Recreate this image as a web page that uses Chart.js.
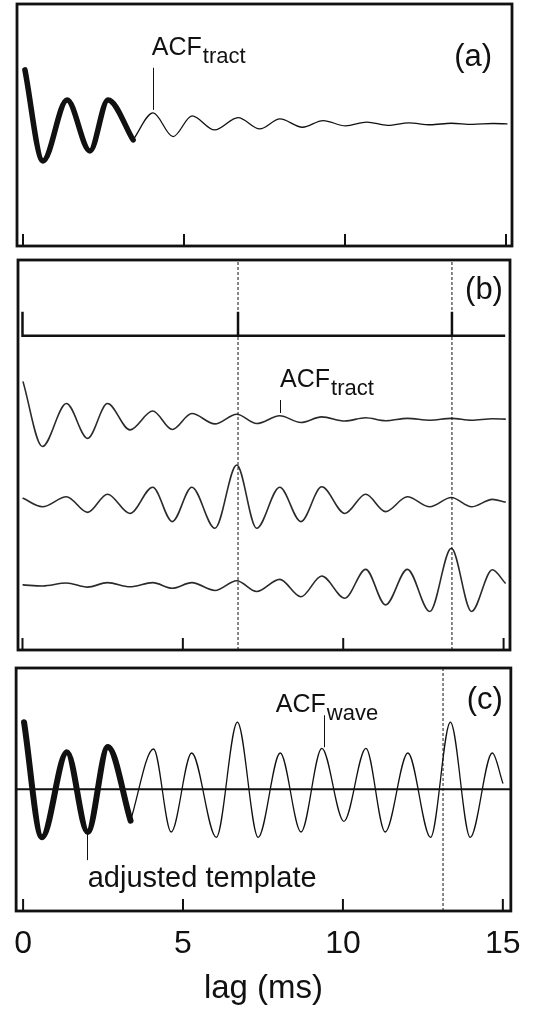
<!DOCTYPE html>
<html>
<head>
<meta charset="utf-8">
<script src="https://cdn.jsdelivr.net/npm/chart.js@4.4.1/dist/chart.umd.min.js"></script>
<style>
  html, body { margin: 0; padding: 0; background: #fff; }
  #fig { position: relative; width: 535px; height: 1013px; overflow: hidden; }
  #fig canvas { position: absolute; left: 0; }
</style>
</head>
<body>
<div id="fig">
  <canvas id="chartA" width="535" height="252" style="top:0px"></canvas>
  <canvas id="chartB" width="535" height="402" style="top:254px"></canvas>
  <canvas id="chartC" width="535" height="351" style="top:662px"></canvas>
</div>
<script>
// ---- data (lag in ms, ACF normalised to 1 at its main peak) ----
const lagTicks = [0, 5, 10, 15];
const tickLabels = ['0', '5', '10', '15'];

// (a) ACF of the tract: first part is the template (thick)
const aTemplateLag = [0.06, 0.62, 1.37, 2.08, 2.64, 3.42];
const aTemplateAcf = [1.00, -0.685, 0.444, -0.50, 0.444, -0.296];
const aTractLag = [3.42, 4.04, 4.66, 5.25, 5.95, 6.68, 7.35, 7.98, 8.68, 9.32, 10.02, 10.68, 11.33, 11.98, 12.65, 13.30, 13.95, 14.60, 15.03];
const aTractAcf = [-0.296, 0.204, -0.235, 0.148, -0.111, 0.117, -0.093, 0.093, -0.062, 0.062, -0.037, 0.035, -0.028, 0.02, -0.015, 0.012, -0.01, 0.008, 0.0];

// (b) ACF_tract and its copies shifted to the pulse positions
const bLag = [0.02, 0.62, 1.37, 2.03, 2.65, 3.35, 4.06, 4.67, 5.28, 6.00, 6.68, 7.30, 8.02, 8.68, 9.33, 10.05, 10.70, 11.32, 12.00, 12.70, 13.37, 14.00, 14.65, 15.05];
const bTract = [1.00, -0.74, 0.42, -0.52, 0.42, -0.29, 0.22, -0.28, 0.15, -0.13, 0.13, -0.12, 0.09, -0.09, 0.06, -0.05, 0.035, -0.045, 0.02, -0.03, 0.02, -0.03, 0.01, 0.0];
const bShift1 = [0.10, -0.13, 0.14, -0.28, 0.21, -0.31, 0.40, -0.53, 0.40, -0.71, 1.00, -0.71, 0.40, -0.53, 0.41, -0.31, 0.21, -0.26, 0.14, -0.13, 0.12, -0.13, 0.07, 0.0];
const bShift2 = [0.00, -0.03, 0.05, -0.06, 0.06, -0.05, 0.06, -0.09, 0.06, -0.15, 0.11, -0.18, 0.15, -0.32, 0.24, -0.36, 0.42, -0.54, 0.42, -0.72, 0.99, -0.72, 0.41, 0.05];
const pulseLag = [0, 6.72, 13.39];
const pulseEnd = 15.05;
const bMarkLag = [6.72, 13.39];

// (c) ACF of the wave with the adjusted template on top
const cTemplateLag = [0.03, 0.59, 1.37, 2.02, 2.65, 3.36];
const cTemplateAcf = [1.00, -0.72, 0.55, -0.64, 0.63, -0.47];
const cWaveLag = [3.36, 4.08, 4.63, 5.27, 6.04, 6.70, 7.35, 8.04, 8.69, 9.34, 10.03, 10.72, 11.32, 12.03, 12.74, 13.36, 13.98, 14.67, 15.00];
const cWaveAcf = [-0.47, 0.60, -0.64, 0.54, -0.72, 1.00, -0.72, 0.54, -0.64, 0.61, -0.48, 0.61, -0.64, 0.54, -0.72, 1.00, -0.72, 0.54, 0.09];
const cMarkLag = [13.13];

// ---- drawing ----
const FONT = "'Liberation Sans', Arial, Helvetica, sans-serif";
const INK = '#111';

const series = (lags, vals, offset = 0) => lags.map((l, i) => ({ x: l, y: offset + vals[i] }));
const wave = (data, width, color = INK) => ({
  data, borderColor: color, borderWidth: width, pointRadius: 0,
  cubicInterpolationMode: 'monotone', fill: false,
  borderCapStyle: 'round', borderJoinStyle: 'round'
});
const rule = (data, width, dash = []) => ({
  data, borderColor: INK, borderWidth: width, borderDash: dash,
  pointRadius: 0, tension: 0, fill: false
});
const marker = (lag, yMin, yMax) => rule([{ x: lag, y: yMin }, { x: lag, y: yMax }], 1, [3, 2]);

// frame, inward ticks, leader lines and labels
const panelDecor = {
  id: 'panelDecor',
  afterDatasetsDraw(chart, args, opts) {
    const { ctx, chartArea: area, scales: { x, y } } = chart;
    ctx.save();
    ctx.strokeStyle = INK;
    ctx.fillStyle = INK;
    ctx.lineWidth = 2.8;
    ctx.strokeRect(area.left, area.top, area.right - area.left, area.bottom - area.top);

    ctx.lineWidth = 2;
    lagTicks.forEach(v => {
      const px = x.getPixelForValue(v);
      ctx.beginPath();
      ctx.moveTo(px, area.bottom);
      ctx.lineTo(px, area.bottom - 12);
      ctx.stroke();
    });

    ctx.lineWidth = 1;
    (opts.leaders || []).forEach(l => {
      const px = Math.round(x.getPixelForValue(l.lag)) + 0.5;
      ctx.beginPath();
      ctx.moveTo(px, y.getPixelForValue(l.from));
      ctx.lineTo(px, y.getPixelForValue(l.to));
      ctx.stroke();
    });

    ctx.textBaseline = 'alphabetic';
    (opts.notes || []).forEach(n => {
      const px = x.getPixelForValue(n.lag), py = y.getPixelForValue(n.val);
      ctx.font = `${n.size}px ${FONT}`;
      ctx.textAlign = n.align || 'left';
      ctx.fillText(n.text, px, py);
      if (n.sub) {
        const w = ctx.measureText(n.text).width;
        ctx.font = `${n.subSize}px ${FONT}`;
        ctx.textAlign = 'left';
        ctx.fillText(n.sub, px + w + 1, py + 8);
      }
    });
    ctx.restore();
  }
};

function makePanel(id, cfg) {
  const xScale = {
    type: 'linear', min: cfg.xMin, max: cfg.xMax, display: !!cfg.axis,
    grid: { display: false, drawTicks: false },
    border: { display: false },
    afterBuildTicks: s => { s.ticks = lagTicks.map(v => ({ value: v })); },
    ticks: {
      autoSkip: false, maxRotation: 0, padding: 14, color: INK,
      font: { family: FONT, size: 32 },
      callback: (v, i) => tickLabels[i]
    }
  };
  if (cfg.axis) {
    xScale.afterFit = s => { s.height = cfg.axis; };
    xScale.title = {
      display: true, text: 'lag (ms)', color: INK,
      font: { family: FONT, size: 33 }, padding: { top: 0, bottom: 4 }
    };
  }
  return new Chart(document.getElementById(id), {
    type: 'line',
    data: { datasets: cfg.datasets },
    options: {
      responsive: false,
      animation: false,
      events: [],
      layout: { padding: cfg.pad },
      plugins: { legend: { display: false }, tooltip: { enabled: false }, panelDecor: cfg.decor },
      scales: {
        x: xScale,
        y: { type: 'linear', min: cfg.yMin, max: cfg.yMax, display: false }
      }
    },
    plugins: [panelDecor]
  });
}

// (a)
makePanel('chartA', {
  pad: { left: 17, right: 23, top: 4, bottom: 6 },
  xMin: -0.186, xMax: 15.186, yMin: -2.26, yMax: 2.22,
  datasets: [
    wave(series(aTractLag, aTractAcf), 1.3),
    wave(series(aTemplateLag, aTemplateAcf), 5.5)
  ],
  decor: {
    leaders: [{ lag: 4.04, from: 0.26, to: 1.04 }],
    notes: [
      { text: 'ACF', sub: 'tract', lag: 4.0, val: 1.28, size: 25, subSize: 22 },
      { text: '(a)', lag: 14.57, val: 1.07, size: 31, align: 'right' }
    ]
  }
});

// (b) stacked traces, offsets place each one in the panel
const bOff = { pulse: -2.05, tract: -4.30, shift1: -6.54, shift2: -8.78 };
const pulseH = 0.65;
const pulseTrain = [];
pulseLag.forEach(l => {
  pulseTrain.push({ x: l, y: bOff.pulse }, { x: l, y: bOff.pulse + pulseH }, { x: l, y: bOff.pulse });
});
pulseTrain.push({ x: pulseEnd, y: bOff.pulse });

makePanel('chartB', {
  pad: { left: 18, right: 25, top: 6, bottom: 6 },
  xMin: -0.14, xMax: 15.2, yMin: -10.54, yMax: 0,
  datasets: [
    ...bMarkLag.map(l => marker(l, -10.54, 0)),
    rule(pulseTrain, 2.5),
    wave(series(bLag, bTract, bOff.tract), 1.6, '#2a2a2a'),
    wave(series(bLag, bShift1, bOff.shift1), 1.6, '#2a2a2a'),
    wave(series(bLag, bShift2, bOff.shift2), 1.6, '#2a2a2a')
  ],
  decor: {
    leaders: [{ lag: 8.02, from: -4.135, to: -3.784 }],
    notes: [
      { text: 'ACF', sub: 'tract', lag: 8.03, val: -3.432, size: 25, subSize: 22 },
      { text: '(b)', lag: 14.98, val: -1.054, size: 31, align: 'right' }
    ]
  }
});

// (c)
makePanel('chartC', {
  pad: { left: 14, right: 24, top: 6, bottom: 0 },
  axis: 102,
  xMin: -0.218, xMax: 15.25, yMin: -1.82, yMax: 1.81,
  datasets: [
    ...cMarkLag.map(l => marker(l, -1.82, 1.81)),
    rule([{ x: -0.218, y: 0 }, { x: 15.25, y: 0 }], 2),
    wave(series(cWaveLag, cWaveAcf), 1.3),
    wave(series(cTemplateLag, cTemplateAcf), 6)
  ],
  decor: {
    leaders: [
      { lag: 9.40, from: 0.627, to: 1.104 },
      { lag: 1.99, from: -0.612, to: -1.06 }
    ],
    notes: [
      { text: 'ACF', sub: 'wave', lag: 7.90, val: 1.149, size: 25, subSize: 22 },
      { text: '(c)', lag: 15.0, val: 1.194, size: 31, align: 'right' },
      { text: 'adjusted template', lag: 2.02, val: -1.463, size: 29 }
    ]
  }
});
</script>
</body>
</html>
